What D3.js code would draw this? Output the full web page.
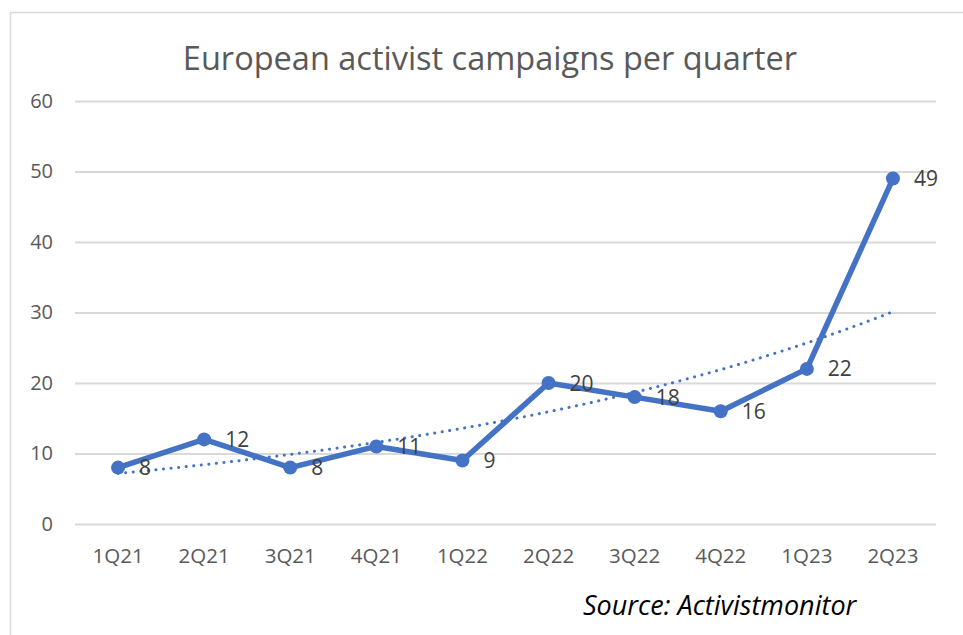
<!DOCTYPE html>
<html><head><meta charset="utf-8">
<script src="https://cdn.jsdelivr.net/npm/d3@7"></script>
<style>body{margin:0;background:#fff}svg{display:block}</style>
</head><body><svg id="c" width="963" height="635"></svg>
<script>
const quarters = ["1Q21","2Q21","3Q21","4Q21","1Q22","2Q22","3Q22","4Q22","1Q23","2Q23"];
const campaigns = [8,12,8,11,9,20,18,16,22,49];
const yTicks = [0,10,20,30,40,50,60];
const title = "European activist campaigns per quarter";
const source = "Source: Activistmonitor";

const svg = d3.select("#c");
const W = 963, H = 635;
const font = "'Open Sans', sans-serif";

// chart frame
svg.append("rect").attr("x",10.5).attr("y",12.5).attr("width",W+20).attr("height",H+20)
  .attr("fill","#fff").attr("stroke","#d9d9d9").attr("stroke-width",1.5);

const x = d3.scaleBand().domain(quarters).range([75,936]);
const y = d3.scaleLinear().domain([0,60]).range([524,101]);
const cx = d => x(d) + x.bandwidth()/2;

// grid
const yAxis = d3.axisLeft(y).tickValues(yTicks).tickSize(-(936-75)).tickPadding(22);
const gy = svg.append("g").attr("transform","translate(75,0)").call(yAxis);
gy.select(".domain").remove();
gy.selectAll(".tick line").attr("stroke","#d9d9d9").attr("stroke-width",2);
gy.selectAll(".tick text").attr("fill","#595959").style("font-family",font).style("font-size","20px");

const xAxis = d3.axisBottom(x).tickSize(0).tickPadding(24);
const gx = svg.append("g").attr("transform","translate(0,524)").call(xAxis);
gx.select(".domain").remove();
gx.selectAll(".tick text").attr("fill","#595959").style("font-family",font).style("font-size","20.5px");

// exponential trendline (least squares on ln y), as in the spreadsheet chart
const n = campaigns.length;
const xs = d3.range(1,n+1), ls = campaigns.map(Math.log);
const mx = d3.mean(xs), ml = d3.mean(ls);
const b = d3.sum(xs.map((v,i)=>(v-mx)*(ls[i]-ml))) / d3.sum(xs.map(v=>(v-mx)**2));
const a = ml - b*mx;
const trendPts = d3.range(0,n-1+0.001,0.1).map(t => [x.bandwidth()/2 + x(quarters[0]) + t*x.step(), y(Math.exp(a + b*(t+1)))]);
svg.append("path").attr("d", d3.line()(trendPts)).attr("fill","none")
  .attr("stroke","#4472c4").attr("stroke-width",3).attr("stroke-linecap","round")
  .attr("stroke-dasharray","0.1 7.5");

// main line
svg.append("path").datum(campaigns)
  .attr("d", d3.line().x((d,i)=>cx(quarters[i])).y(d=>y(d)))
  .attr("fill","none").attr("stroke","#4472c4").attr("stroke-width",5.5).attr("stroke-linejoin","round");

svg.selectAll("circle.m").data(campaigns).join("circle").attr("class","m")
  .attr("cx",(d,i)=>cx(quarters[i])).attr("cy",d=>y(d)).attr("r",7).attr("fill","#4472c4");

svg.selectAll("text.lbl").data(campaigns).join("text").attr("class","lbl")
  .attr("x",(d,i)=>cx(quarters[i])+21).attr("y",d=>y(d)).attr("dy","0.36em")
  .attr("fill","#404040").style("font-family",font).style("font-size","21px").text(d=>d);

svg.append("text").attr("x",490).attr("y",70).attr("text-anchor","middle")
  .attr("fill","#595959").style("font-family",font).style("font-size","32.5px").text(title);

svg.append("text").attr("x",583).attr("y",615)
  .attr("fill","#000").style("font-family",font).style("font-style","italic").style("font-size","27px").text(source);
</script></body></html>
